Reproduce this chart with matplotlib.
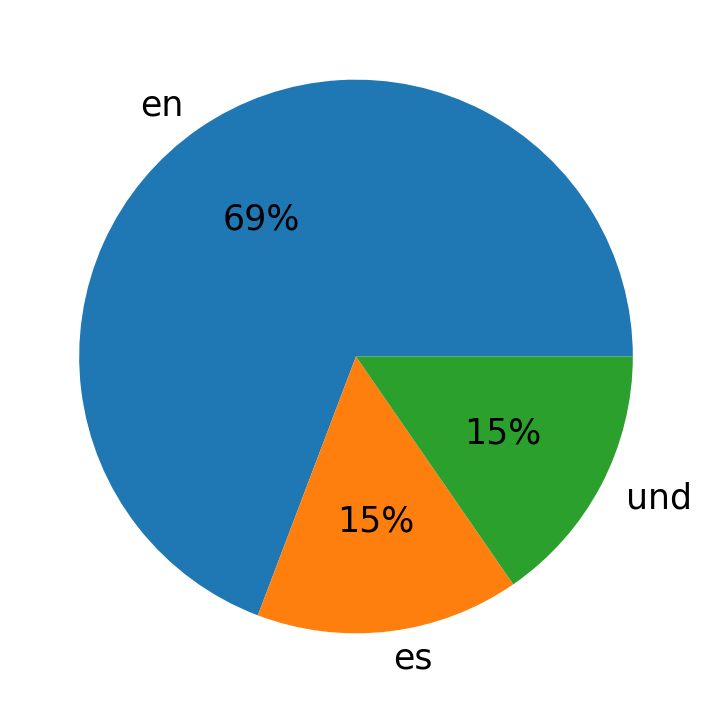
import matplotlib.pyplot as plt

labels = ['en', 'es', 'und']
counts = [9, 2, 2]

fig = plt.figure(figsize=(7.12, 7.13), dpi=100)
ax = fig.add_axes([0.014, 0.014, 0.972, 0.972])
ax.pie(counts, labels=labels, autopct='%1.0f%%', textprops={'fontsize': 25})
ax.set_aspect('equal')
fig.savefig('out.png', dpi=100)
